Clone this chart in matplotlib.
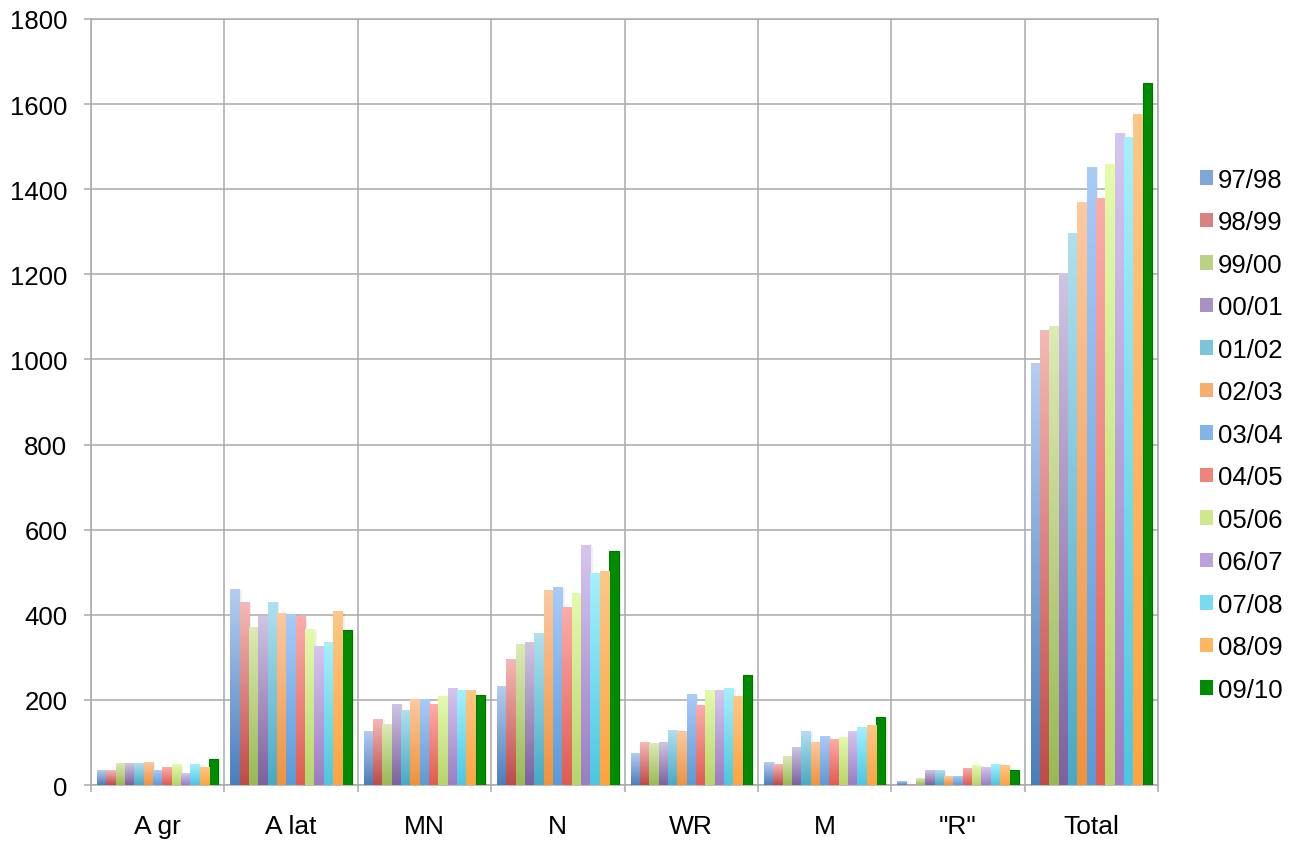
import numpy as np
import matplotlib
matplotlib.use('Agg')
import matplotlib.pyplot as plt
from matplotlib.colors import LinearSegmentedColormap
from matplotlib.patches import Patch

plt.rcParams['font.family'] = ['Liberation Sans', 'DejaVu Sans']

categories = ['A gr', 'A lat', 'MN', 'N', 'WR', 'M', '"R"', 'Total']
seasons = ['97/98', '98/99', '99/00', '00/01', '01/02', '02/03', '03/04',
           '04/05', '05/06', '06/07', '07/08', '08/09', '09/10']

# one list per category, values in season order
a_gr = [35, 33, 50, 50, 50, 52, 33, 40, 47, 28, 47, 42, 61]
a_lat = [459, 428, 369, 395, 428, 402, 400, 395, 365, 325, 334, 407, 365]
mn = [125, 153, 141, 188, 174, 202, 202, 188, 209, 226, 221, 223, 212]
n = [231, 296, 329, 336, 355, 456, 464, 416, 449, 562, 496, 501, 551]
wr = [73, 99, 97, 101, 129, 125, 212, 186, 221, 221, 226, 209, 259]
m = [54, 49, 68, 89, 125, 101, 113, 108, 111, 125, 136, 139, 160]
r = [9, 2, 16, 33, 33, 21, 21, 38, 45, 40, 49, 45, 35]
total = [991, 1069, 1078, 1201, 1297, 1368, 1452, 1377, 1457, 1532, 1521, 1575, 1650]

# (bottom, top) gradient colours per season
season_colors = [
    ('#4A7EBB', '#B5CDF0'), ('#BE4B48', '#F5B8B6'), ('#98B954', '#DAEBB4'),
    ('#7D60A0', '#D0C4E2'), ('#46AAC5', '#B0E0EF'), ('#F0923A', '#FDC9A0'),
    ('#5A9AD9', '#A9CBF8'), ('#E05B50', '#FDACAA'), ('#B5D66A', '#E4FBAC'),
    ('#9C7CC4', '#D7C5F1'), ('#4BC7E1', '#A5F0FD'), ('#FDA43E', '#FEC788'),
    ('#008C00', '#008C00'),
]

data = np.array([a_gr, a_lat, mn, n, wr, m, r, total])
grid_gray = '#AAAAAA'

fig = plt.figure(figsize=(12.97, 8.54), dpi=100)
ax = fig.add_axes([0.0702, 0.0796, 0.8226, 0.8970])

n_cat = len(categories)
n_ser = len(seasons)
group_w = 0.91
bar_w = group_w / n_ser
x = np.arange(n_cat) + 0.5

grad = np.linspace(0, 1, 256).reshape(-1, 1)
for i, (label, (c_lo, c_hi)) in enumerate(zip(seasons, season_colors)):
    xpos = x - group_w / 2 + bar_w * (i + 0.5)
    vals = data[:, i]
    mid = LinearSegmentedColormap.from_list('m', [c_lo, c_hi])(0.5)
    # light shadow to the right of each bar
    ax.bar(xpos + bar_w * 0.25, vals, width=bar_w, color='#000000', alpha=0.06,
           zorder=2, linewidth=0)
    bars = ax.bar(xpos, vals, width=bar_w, color=mid, zorder=3, linewidth=0,
                  label=label)
    if c_lo == c_hi:
        for b in bars:
            b.set_edgecolor('#007400')
            b.set_linewidth(0.8)
        continue
    cmap = LinearSegmentedColormap.from_list('g' + label, [c_lo, c_hi])
    for b in bars:
        x0, y0 = b.get_x(), b.get_y()
        ax.imshow(grad, cmap=cmap, origin='lower', aspect='auto', zorder=3.5,
                  extent=[x0, x0 + b.get_width(), y0, y0 + b.get_height()],
                  interpolation='bilinear')

ax.set_xlim(0, n_cat)
ax.set_ylim(0, 1800)
ax.set_yticks(np.arange(0, 1801, 200))
ax.set_xticks(x)
ax.set_xticklabels(categories, fontsize=19)
ax.set_xticks(np.arange(0, n_cat + 1), minor=True)
ax.tick_params(axis='x', which='major', length=0, pad=21)
ax.tick_params(axis='x', which='minor', length=5, color=grid_gray, width=1.1)
ax.tick_params(axis='y', length=5, color=grid_gray, width=1.1, labelsize=18.5, pad=12)
ax.grid(True, axis='y', color=grid_gray, linewidth=1.1, zorder=0)
ax.grid(True, axis='x', which='minor', color=grid_gray, linewidth=1.1, zorder=0)
ax.set_axisbelow(True)
for s in ax.spines.values():
    s.set_color(grid_gray)
    s.set_linewidth(1.1)

handles = []
for (c_lo, c_hi) in season_colors:
    mid = LinearSegmentedColormap.from_list('m', [c_lo, c_hi])(0.5)
    handles.append(Patch(facecolor=mid, edgecolor='none'))
fig.legend(handles, seasons, loc='center left', bbox_to_anchor=(0.925, 0.490),
           frameon=False, fontsize=18.5, handlelength=0.5, handleheight=0.5,
           handletextpad=0.2, labelspacing=0.72, borderpad=0, borderaxespad=0)

fig.savefig('out.png', dpi=100)
